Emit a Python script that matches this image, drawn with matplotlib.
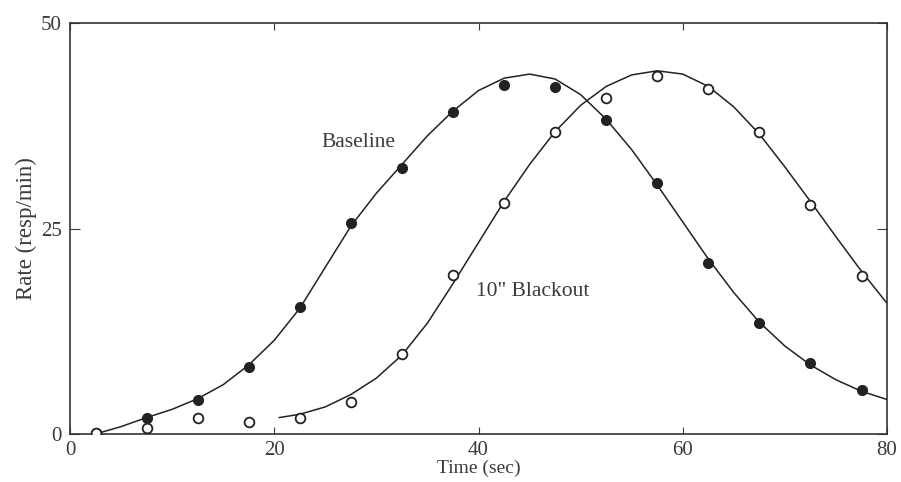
import matplotlib.pyplot as plt

# measured points (every 5 sec)
t_pts = [2.5, 7.5, 12.5, 17.5, 22.5, 27.5, 32.5, 37.5, 42.5, 47.5,
         52.5, 57.5, 62.5, 67.5, 72.5, 77.5]
baseline_pts = [0.1, 2.0, 4.1, 8.2, 15.4, 25.7, 32.4, 39.2, 42.5, 42.2,
                38.2, 30.5, 20.8, 13.5, 8.6, 5.4]
blackout_pts = [0.1, 0.7, 1.9, 1.5, 1.9, 3.9, 9.7, 19.3, 28.1, 36.7,
                40.9, 43.6, 42.0, 36.7, 27.9, 19.2]

# fitted curves
t_base_fit = [2.5, 5, 7.5, 10, 12.5, 15, 17.5, 20, 22.5, 25, 27.5, 30, 32.5,
              35, 37.5, 40, 42.5, 45, 47.5, 50, 52.5, 55, 57.5, 60, 62.5,
              65, 67.5, 70, 72.5, 75, 77.5, 80]
base_fit = [0.0, 0.9, 2.0, 3.0, 4.3, 6.0, 8.4, 11.4, 15.3, 20.3, 25.3, 29.3,
            32.8, 36.3, 39.3, 41.8, 43.3, 43.8, 43.2, 41.3, 38.3, 34.6, 30.3,
            25.8, 21.3, 17.2, 13.6, 10.7, 8.4, 6.6, 5.2, 4.2]
t_black_fit = [20.5, 22.5, 25, 27.5, 30, 32.5, 35, 37.5, 40, 42.5, 45, 47.5,
               50, 52.5, 55, 57.5, 60, 62.5, 65, 67.5, 70, 72.5, 75, 77.5, 80]
black_fit = [2.0, 2.4, 3.3, 4.8, 6.8, 9.6, 13.5, 18.3, 23.3, 28.3, 32.8, 36.8,
             40.0, 42.3, 43.7, 44.2, 43.8, 42.3, 39.8, 36.5, 32.5, 28.3, 24.0,
             19.8, 15.9]

plt.rcParams['font.family'] = ['Liberation Serif', 'DejaVu Serif']

fig = plt.figure(figsize=(9.01, 4.82), dpi=100)
ax = fig.add_axes([0.0777, 0.0996, 0.9068, 0.8524])

ink = '#222222'
txt = '#3a3a3a'
ax.plot(t_base_fit, base_fit, color=ink, lw=1.1)
ax.plot(t_black_fit, black_fit, color=ink, lw=1.1)
ax.plot(t_pts, baseline_pts, 'o', color=ink, ms=7, zorder=3)
ax.plot(t_pts, blackout_pts, 'o', mfc='white', mec=ink, mew=1.3, ms=7, zorder=3)

ax.text(28.2, 35.5, 'Baseline', fontsize=15.5, color=txt, ha='center', va='center')
ax.text(45.3, 17.3, '10" Blackout', fontsize=15.5, color=txt, ha='center', va='center')

ax.set_xlim(0, 80)
ax.set_ylim(0, 50)
ax.set_xticks([0, 20, 40, 60, 80])
ax.set_yticks([0, 25, 50])
ax.tick_params(axis='x', direction='in', top=True, length=5, labelsize=15,
               colors=txt, pad=5)
ax.tick_params(axis='y', direction='in', right=True, length=7, labelsize=15,
               colors=txt, pad=6)
for s in ax.spines.values():
    s.set_color('#333333')
    s.set_linewidth(1.2)
ax.set_xlabel('Time (sec)', fontsize=14, color=txt, labelpad=0)
ax.set_ylabel('Rate (resp/min)', fontsize=16.5, color=txt, labelpad=3)

fig.savefig('out.png', dpi=100)
